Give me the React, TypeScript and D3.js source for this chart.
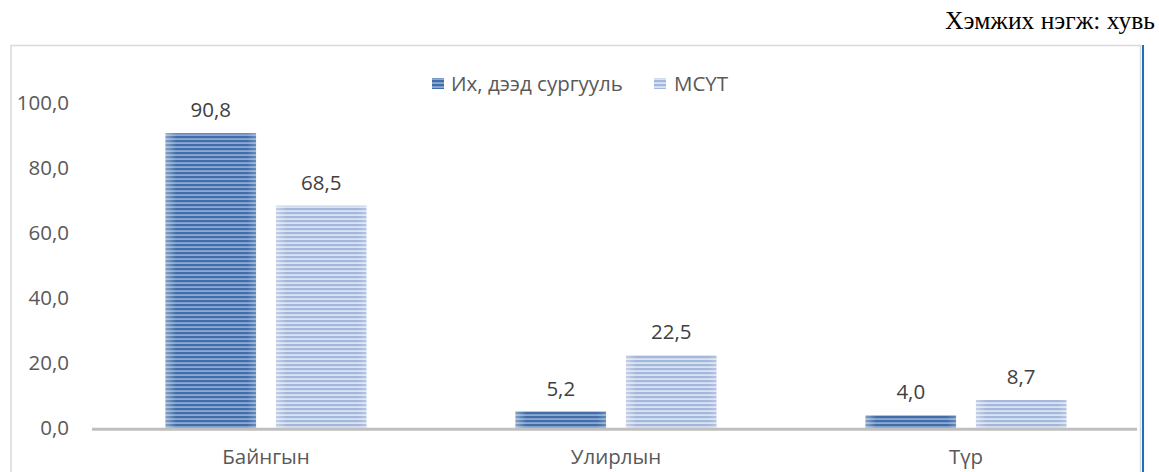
import React from "react";
import * as d3 from "d3";

const categories = ["Байнгын", "Улирлын", "Түр"];
const seriesNames = ["Их, дээд сургууль", "МСҮТ"];
const higherEd = [90.8, 5.2, 4.0];
const vocational = [68.5, 22.5, 8.7];
const yTicks = [0, 20, 40, 60, 80, 100];

const W = 1159;
const H = 472;

export default function App() {
  const x0 = d3.scaleBand<string>().domain(categories).range([91, 1141]).paddingInner(0).paddingOuter(0);
  const y = d3.scaleLinear().domain([0, 100]).range([428.3, 103.3]);
  const groupW = 201;
  const x1 = d3.scaleBand<string>().domain(seriesNames).range([0, groupW]).paddingInner(0.18);
  const series = [higherEd, vocational];
  const fmt = (v: number) => v.toFixed(1).replace(".", ",");
  const font = "'Open Sans', 'Noto Sans', sans-serif";
  const fills = ["url(#pDark)", "url(#pLight)"];
  const fs = 20.5;
  return (
    <svg width={W} height={H} style={{ position: "absolute", left: 0, top: 0, background: "#fff" }}>
      <defs>
        <pattern id="pDark" width="8" height="4" patternUnits="userSpaceOnUse" y="0">
          <rect width="8" height="4" fill="#8ea9d2" />
          <rect width="8" height="2.2" fill="#416ea9" />
        </pattern>
        <pattern id="pLight" width="8" height="4" patternUnits="userSpaceOnUse" y="0">
          <rect width="8" height="4" fill="#dbe3f1" />
          <rect width="8" height="2.2" fill="#a3b6db" />
        </pattern>
        <linearGradient id="edge" x1="0" x2="1" y1="0" y2="0">
          <stop offset="0" stopColor="#fff" stopOpacity="0.35" />
          <stop offset="0.12" stopColor="#fff" stopOpacity="0" />
          <stop offset="0.9" stopColor="#fff" stopOpacity="0" />
          <stop offset="1" stopColor="#fff" stopOpacity="0.2" />
        </linearGradient>
      </defs>
      <text x={1155} y={29} textAnchor="end" fontFamily="'Liberation Serif', 'Times New Roman', serif" fontSize={25.5} fill="#000">
        Хэмжих нэгж: хувь
      </text>
      {/* frame */}
      <path d={`M11,${H} V45.5 H1140.5 V${H}`} fill="none" stroke="#d9d9d9" strokeWidth={1.5} />
      <line x1={1143} x2={1143} y1={45} y2={H} stroke="#1f6fc1" strokeWidth={2} />
      {/* y tick labels */}
      {yTicks.map((t) => (
        <text key={t} x={69} y={y(t)} dy="0.35em" textAnchor="end" fontFamily={font} fontSize={fs} fill="#595959">
          {fmt(t)}
        </text>
      ))}
      {/* legend */}
      <g fontFamily={font} fontSize={fs} fill="#595959">
        <rect x={432} y={78} width={12} height={11} fill="url(#pDark)" />
        <text x={451} y={84} dy="0.35em">{seriesNames[0]}</text>
        <rect x={654} y={78} width={12} height={11} fill="url(#pLight)" />
        <text x={674} y={84} dy="0.35em">{seriesNames[1]}</text>
      </g>
      {/* bars */}
      {categories.map((c, i) => {
        const gx = (x0(c) as number) + (x0.bandwidth() - groupW) / 2;
        return (
          <g key={c}>
            {seriesNames.map((s, j) => {
              const v = series[j][i];
              const bx = gx + (x1(s) as number);
              return (
                <g key={s}>
                  <rect x={bx} y={y(v)} width={x1.bandwidth()} height={y(0) - y(v)} fill={fills[j]} />
                  <rect x={bx} y={y(v)} width={x1.bandwidth()} height={y(0) - y(v)} fill="url(#edge)" />
                  <text x={bx + x1.bandwidth() / 2} y={y(v) - 23} dy="0.35em" textAnchor="middle" fontFamily={font} fontSize={fs} fill="#404040">
                    {fmt(v)}
                  </text>
                </g>
              );
            })}
            <text x={(x0(c) as number) + x0.bandwidth() / 2} y={457} dy="0.35em" textAnchor="middle" fontFamily={font} fontSize={fs} fill="#595959">
              {c}
            </text>
          </g>
        );
      })}
      <line x1={92} x2={1137} y1={y(0) + 1} y2={y(0) + 1} stroke="#bfbfbf" strokeWidth={3} />
    </svg>
  );
}
